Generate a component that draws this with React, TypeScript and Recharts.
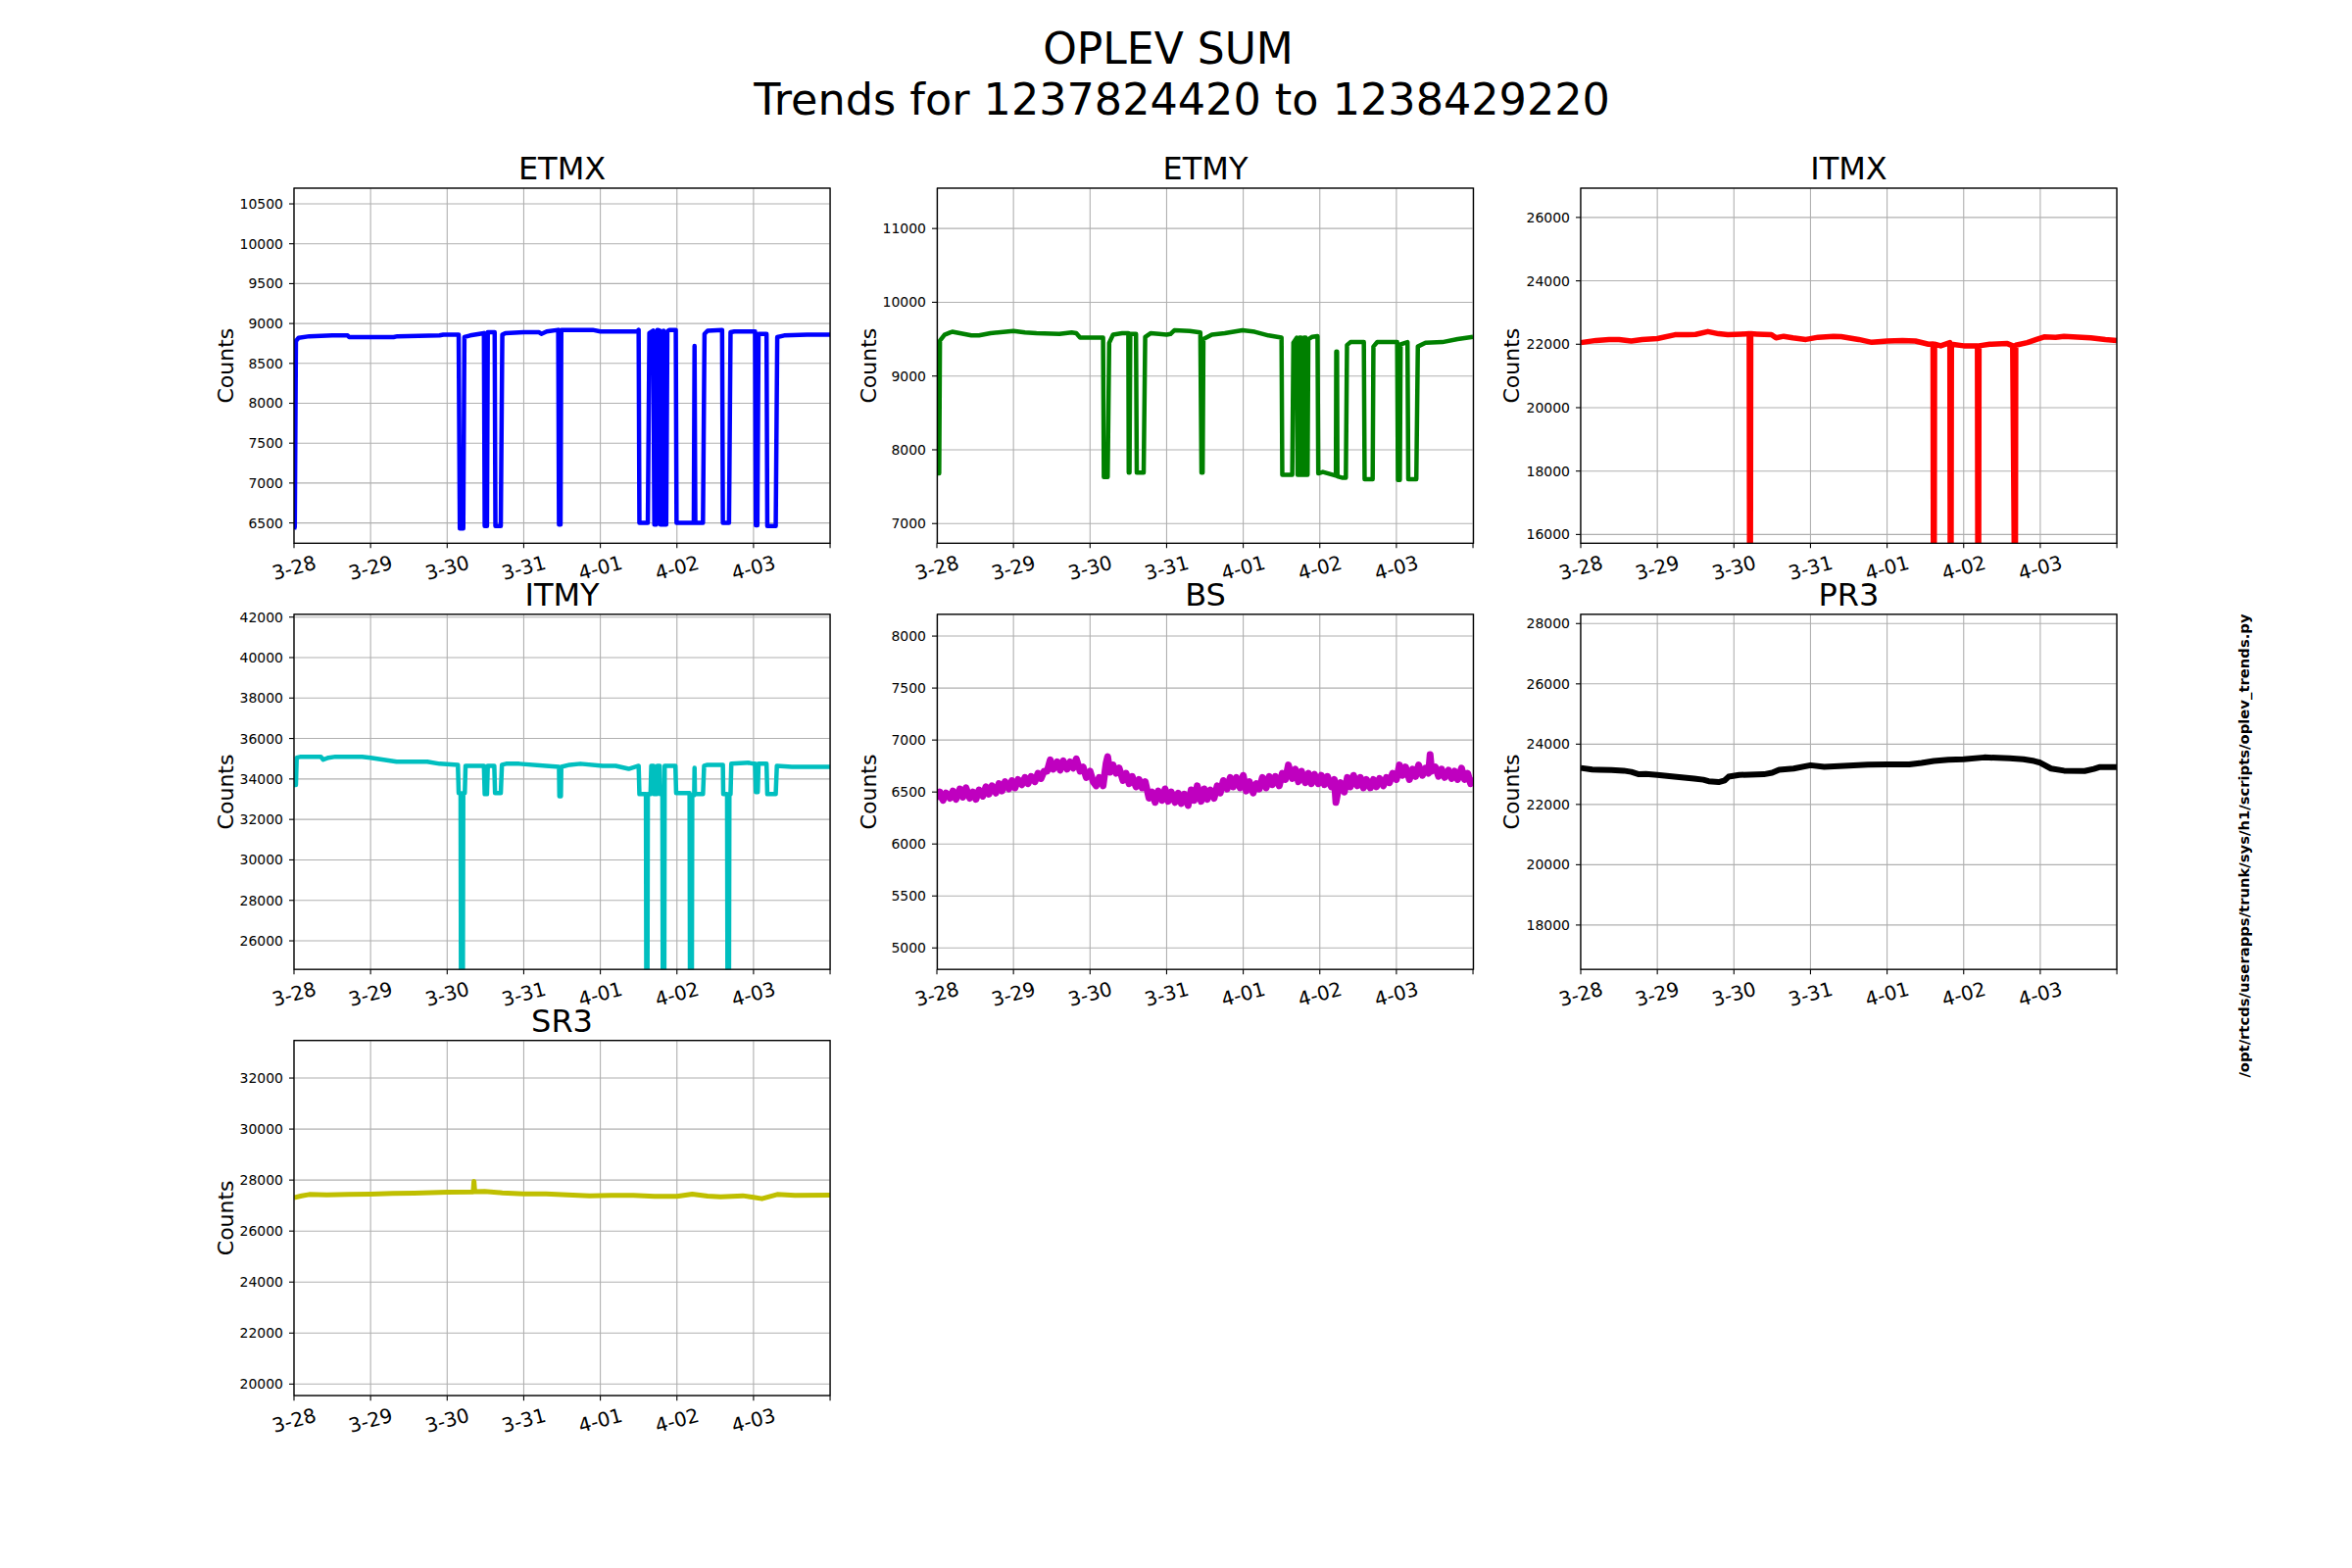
import React from 'react';
import { LineChart, Line, XAxis, YAxis, CartesianGrid } from 'recharts';

// time axis: days since 3-28 00:00
const dayTicks = [0, 1, 2, 3, 4, 5, 6, 7];
const dayLabels = ['3-28', '3-29', '3-30', '3-31', '4-01', '4-02', '4-03', ''];

// [day, counts]
const etmx = [
  [0, 6420], [0.01, 6450], [0.025, 8780], [0.06, 8820], [0.2, 8840], [0.5, 8850], [0.7, 8850], [0.72, 8830],
  [1.0, 8830], [1.3, 8830], [1.35, 8840], [1.9, 8850], [1.95, 8860], [2.15, 8860], [2.165, 6430], [2.21, 6430],
  [2.225, 8830], [2.3, 8850], [2.42, 8870], [2.48, 8880], [2.49, 6460], [2.52, 6460], [2.53, 8890], [2.62, 8890],
  [2.63, 6460], [2.7, 6460], [2.72, 8860], [2.76, 8880], [3.0, 8890], [3.2, 8890], [3.23, 8870], [3.3, 8900],
  [3.45, 8920], [3.46, 6480], [3.48, 6480], [3.49, 8920], [3.9, 8920], [4.0, 8900], [4.48, 8900], [4.5, 8920],
  [4.51, 6500], [4.62, 6500], [4.64, 8880], [4.69, 8910], [4.705, 6480], [4.73, 6480], [4.745, 8920], [4.775, 8910],
  [4.785, 6480], [4.81, 6480], [4.825, 8910], [4.835, 6480], [4.86, 6480], [4.875, 8900], [4.9, 8920], [4.985, 8920],
  [4.995, 6500], [5.22, 6500], [5.23, 8720], [5.24, 6500], [5.34, 6500], [5.36, 8870], [5.4, 8910], [5.59, 8920],
  [5.6, 6500], [5.68, 6500], [5.7, 8890], [5.75, 8900], [6.02, 8900], [6.03, 6470], [6.05, 6470], [6.065, 8870],
  [6.17, 8870], [6.18, 6460], [6.29, 6460], [6.31, 8830], [6.4, 8850], [6.7, 8860], [7, 8860],
];

const etmy = [
  [0, 7680], [0.03, 7680], [0.04, 9480], [0.1, 9560], [0.17, 9590], [0.2, 9600], [0.35, 9570], [0.45, 9550],
  [0.55, 9550], [0.7, 9580], [0.9, 9600], [1.0, 9610], [1.15, 9590], [1.3, 9580], [1.6, 9570], [1.76, 9590],
  [1.82, 9580], [1.87, 9520], [2.0, 9520], [2.17, 9520], [2.18, 7630], [2.23, 7630], [2.25, 9450], [2.3, 9560],
  [2.42, 9580], [2.5, 9580], [2.505, 7690], [2.515, 7690], [2.525, 9570], [2.6, 9570], [2.61, 7690], [2.7, 7690],
  [2.72, 9530], [2.79, 9580], [2.9, 9570], [3.0, 9560], [3.05, 9570], [3.1, 9620], [3.3, 9610], [3.44, 9590],
  [3.455, 7690], [3.47, 7690], [3.48, 9500], [3.59, 9560], [3.76, 9580], [3.99, 9620], [4.15, 9600], [4.33, 9550],
  [4.5, 9520], [4.51, 7660], [4.64, 7660], [4.655, 9450], [4.7, 9520], [4.71, 7660], [4.725, 7660], [4.735, 9520],
  [4.755, 9520], [4.765, 7660], [4.785, 7660], [4.795, 9520], [4.815, 9520], [4.825, 7660], [4.84, 7660], [4.85, 9500],
  [4.9, 9530], [4.97, 9540], [4.98, 7680], [5.04, 7700], [5.21, 7650], [5.215, 9330], [5.225, 9330], [5.23, 7640],
  [5.3, 7620], [5.34, 7620], [5.355, 9420], [5.4, 9460], [5.575, 9460], [5.585, 7600], [5.69, 7600], [5.7, 9400],
  [5.75, 9460], [6.01, 9460], [6.02, 7590], [6.045, 7590], [6.055, 9430], [6.145, 9460], [6.155, 7600], [6.26, 7600],
  [6.28, 9400], [6.38, 9450], [6.6, 9460], [6.8, 9500], [7, 9530],
];

const itmx = [
  [0, 22050], [0.2, 22120], [0.37, 22150], [0.5, 22150], [0.66, 22100], [0.8, 22150], [1.0, 22180], [1.23, 22300],
  [1.4, 22300], [1.5, 22310], [1.66, 22400], [1.8, 22330], [1.92, 22300], [2.1, 22320], [2.2, 22330], [2.205, 14000],
  [2.215, 14000], [2.22, 22330], [2.3, 22320], [2.49, 22300], [2.55, 22200], [2.65, 22250], [2.77, 22200], [2.94, 22150],
  [3.1, 22220], [3.3, 22250], [3.4, 22240], [3.63, 22150], [3.8, 22060], [4.0, 22100], [4.2, 22120], [4.37, 22100],
  [4.54, 22000], [4.6, 22010], [4.605, 14000], [4.615, 14000], [4.62, 22000], [4.7, 21950], [4.82, 22050], [4.825, 14000],
  [4.835, 14000], [4.84, 22000], [5.0, 21950], [5.18, 21950], [5.185, 14000], [5.195, 14000], [5.2, 21950], [5.34, 22000],
  [5.57, 22020], [5.64, 21950], [5.665, 14000], [5.675, 14000], [5.68, 21970], [5.83, 22050], [5.95, 22150], [6.05, 22230],
  [6.2, 22220], [6.31, 22250], [6.66, 22200], [6.85, 22150], [7, 22120],
];

const itmy = [
  [0, 33700], [0.025, 33700], [0.035, 35050], [0.09, 35100], [0.35, 35100], [0.38, 34950], [0.45, 35050], [0.54, 35100],
  [0.89, 35100], [1.0, 35050], [1.17, 34950], [1.34, 34850], [1.74, 34850], [1.9, 34750], [2.14, 34700], [2.15, 33300],
  [2.175, 33300], [2.18, 24000], [2.205, 24000], [2.21, 33300], [2.23, 33300], [2.24, 34650], [2.48, 34650], [2.49, 33250],
  [2.52, 33250], [2.53, 34650], [2.615, 34650], [2.625, 33300], [2.7, 33300], [2.715, 34700], [2.77, 34750], [2.94, 34750],
  [3.29, 34650], [3.46, 34600], [3.465, 33150], [3.485, 33150], [3.49, 34600], [3.6, 34700], [3.74, 34750], [4.03, 34650],
  [4.2, 34650], [4.37, 34500], [4.5, 34650], [4.51, 33250], [4.595, 33250], [4.6, 24000], [4.615, 24000], [4.62, 33250],
  [4.655, 33250], [4.665, 34650], [4.695, 34650], [4.705, 33250], [4.735, 33250], [4.745, 34650], [4.775, 34650], [4.785, 33250],
  [4.81, 33250], [4.815, 24000], [4.835, 24000], [4.84, 34650], [4.98, 34650], [4.99, 33300], [5.165, 33300], [5.17, 24000],
  [5.195, 24000], [5.2, 33200], [5.225, 33200], [5.23, 34550], [5.235, 33250], [5.34, 33250], [5.355, 34650], [5.4, 34700],
  [5.6, 34700], [5.605, 33250], [5.655, 33250], [5.66, 24000], [5.68, 24000], [5.685, 33250], [5.7, 33250], [5.71, 34750],
  [5.94, 34800], [6.0, 34750], [6.02, 34750], [6.03, 33350], [6.055, 33350], [6.065, 34750], [6.17, 34750], [6.18, 33250],
  [6.29, 33250], [6.305, 34650], [6.5, 34600], [6.71, 34600], [7, 34600],
];

const bs = [
  [0, 6430], [0.04, 6500], [0.08, 6420], [0.12, 6490], [0.17, 6440], [0.21, 6510], [0.25, 6430], [0.3, 6530],
  [0.34, 6450], [0.38, 6540], [0.43, 6440], [0.47, 6500], [0.51, 6430], [0.55, 6520], [0.6, 6460], [0.64, 6550],
  [0.68, 6480], [0.72, 6560], [0.77, 6490], [0.81, 6580], [0.85, 6510], [0.89, 6600], [0.94, 6530], [0.98, 6610],
  [1.02, 6540], [1.06, 6620], [1.11, 6570], [1.15, 6640], [1.19, 6580], [1.23, 6650], [1.28, 6600], [1.32, 6680],
  [1.36, 6630], [1.4, 6700], [1.44, 6700], [1.48, 6810], [1.52, 6720], [1.57, 6790], [1.61, 6710], [1.65, 6800],
  [1.7, 6720], [1.74, 6790], [1.78, 6730], [1.82, 6820], [1.87, 6700], [1.91, 6740], [1.95, 6640], [2.0, 6700],
  [2.04, 6600], [2.08, 6560], [2.12, 6640], [2.17, 6560], [2.21, 6780], [2.23, 6840], [2.26, 6690], [2.3, 6760],
  [2.34, 6680], [2.38, 6730], [2.43, 6610], [2.47, 6680], [2.51, 6580], [2.55, 6650], [2.6, 6550], [2.64, 6620],
  [2.68, 6540], [2.72, 6600], [2.77, 6440], [2.81, 6500], [2.85, 6400], [2.89, 6510], [2.94, 6420], [2.98, 6530],
  [3.02, 6410], [3.06, 6500], [3.11, 6400], [3.15, 6490], [3.19, 6390], [3.23, 6480], [3.28, 6370], [3.32, 6520],
  [3.36, 6420], [3.4, 6560], [3.45, 6410], [3.49, 6530], [3.53, 6430], [3.57, 6520], [3.62, 6440], [3.66, 6560],
  [3.7, 6490], [3.74, 6610], [3.79, 6530], [3.83, 6640], [3.87, 6550], [3.91, 6640], [3.96, 6540], [4.0, 6660],
  [4.04, 6510], [4.08, 6600], [4.13, 6490], [4.17, 6580], [4.21, 6530], [4.25, 6640], [4.3, 6540], [4.34, 6650],
  [4.38, 6570], [4.42, 6650], [4.47, 6560], [4.51, 6680], [4.55, 6620], [4.59, 6760], [4.64, 6630], [4.68, 6720],
  [4.72, 6600], [4.76, 6700], [4.81, 6590], [4.85, 6680], [4.89, 6580], [4.93, 6670], [4.98, 6580], [5.02, 6660],
  [5.06, 6570], [5.1, 6650], [5.15, 6550], [5.19, 6620], [5.21, 6400], [5.23, 6480], [5.27, 6590], [5.32, 6500],
  [5.36, 6640], [5.4, 6550], [5.44, 6660], [5.49, 6560], [5.53, 6640], [5.57, 6540], [5.61, 6620], [5.66, 6540],
  [5.7, 6620], [5.74, 6550], [5.78, 6630], [5.83, 6560], [5.87, 6640], [5.91, 6590], [5.95, 6680], [6.0, 6620],
  [6.04, 6760], [6.08, 6660], [6.12, 6740], [6.17, 6620], [6.21, 6720], [6.25, 6650], [6.29, 6760], [6.34, 6660],
  [6.38, 6730], [6.42, 6680], [6.44, 6860], [6.46, 6700], [6.51, 6740], [6.55, 6650], [6.59, 6720], [6.63, 6640],
  [6.68, 6710], [6.72, 6630], [6.76, 6700], [6.8, 6620], [6.85, 6730], [6.89, 6620], [6.93, 6680], [6.97, 6580],
  [7, 6640],
];

const pr3 = [
  [0, 23210], [0.15, 23160], [0.24, 23150], [0.4, 23140], [0.56, 23120], [0.66, 23080], [0.76, 23000], [0.85, 23010],
  [1.0, 22980], [1.22, 22920], [1.48, 22860], [1.6, 22820], [1.67, 22770], [1.8, 22740], [1.88, 22800], [1.93, 22920],
  [2.07, 22980], [2.39, 23000], [2.5, 23050], [2.59, 23150], [2.78, 23190], [3.0, 23300], [3.18, 23245], [3.5, 23290],
  [3.75, 23320], [4.0, 23330], [4.29, 23330], [4.45, 23380], [4.61, 23440], [4.8, 23480], [5.0, 23500], [5.27, 23560],
  [5.6, 23535], [5.78, 23500], [5.92, 23440], [6.0, 23385], [6.14, 23190], [6.31, 23120], [6.58, 23110], [6.7, 23180],
  [6.77, 23235], [7, 23235],
];

const sr3 = [
  [0, 27310], [0.1, 27380], [0.2, 27435], [0.43, 27420], [0.71, 27435], [1.0, 27450], [1.29, 27475], [1.57, 27490],
  [2.0, 27525], [2.34, 27530], [2.35, 27950], [2.36, 27540], [2.49, 27550], [2.72, 27500], [3.0, 27460], [3.29, 27460],
  [3.57, 27420], [3.86, 27385], [4.14, 27400], [4.43, 27400], [4.71, 27360], [5.0, 27360], [5.2, 27450], [5.4, 27370],
  [5.57, 27345], [5.86, 27385], [6.0, 27320], [6.11, 27270], [6.31, 27435], [6.54, 27400], [7, 27410],
];

const etmxTicks = [6500, 7000, 7500, 8000, 8500, 9000, 9500, 10000, 10500];
const etmyTicks = [7000, 8000, 9000, 10000, 11000];
const itmxTicks = [16000, 18000, 20000, 22000, 24000, 26000];
const itmyTicks = [26000, 28000, 30000, 32000, 34000, 36000, 38000, 40000, 42000];
const bsTicks = [5000, 5500, 6000, 6500, 7000, 7500, 8000];
const pr3Ticks = [18000, 20000, 22000, 24000, 26000, 28000];
const sr3Ticks = [20000, 22000, 24000, 26000, 28000, 30000, 32000];

const panels = [
  { name: 'ETMX', data: etmx, color: '#0000ff', width: 4.5, domain: [6245, 10697], ticks: etmxTicks, col: 0, row: 0 },
  { name: 'ETMY', data: etmy, color: '#008000', width: 4.5, domain: [6733, 11547], ticks: etmyTicks, col: 1, row: 0 },
  { name: 'ITMX', data: itmx, color: '#ff0000', width: 5.5, domain: [15723, 26923], ticks: itmxTicks, col: 2, row: 0 },
  { name: 'ITMY', data: itmy, color: '#00bfbf', width: 4.5, domain: [24580, 42130], ticks: itmyTicks, col: 0, row: 1 },
  { name: 'BS', data: bs, color: '#bf00bf', width: 7, domain: [4792, 8208], ticks: bsTicks, col: 1, row: 1 },
  { name: 'PR3', data: pr3, color: '#000000', width: 6, domain: [16523, 28302], ticks: pr3Ticks, col: 2, row: 1 },
  { name: 'SR3', data: sr3, color: '#bfbf00', width: 5, domain: [19538, 33462], ticks: sr3Ticks, col: 0, row: 2 },
];

// subplot grid: left .125, right .9, bottom .11, top .88, wspace/hspace .2
const PW = 547.06;
const PH = 362.35;
const colLeft = [300, 956.47, 1612.94];
const rowTop = [192, 626.82, 1061.65];
const YW = 80;
const MT = 4;
const MR = 8;
const XH = 60;
const FONT = '"DejaVu Sans", sans-serif';

function XTick(props: any) {
  const { x, y, payload } = props;
  const label = dayLabels[dayTicks.indexOf(payload.value)] || '';
  return (
    <text
      transform={`translate(${x},${y + 20}) rotate(-15)`}
      textAnchor="middle"
      dominantBaseline="central"
      fontSize={20}
      fill="#000"
      fontFamily={FONT}
    >
      {label}
    </text>
  );
}

function Panel({ p }: { p: (typeof panels)[number] }) {
  const rows = p.data.map(([t, v]) => ({ t, v }));
  const left = colLeft[p.col];
  const top = rowTop[p.row];
  return (
    <div style={{ position: 'absolute', left: left - YW, top: top - MT }}>
      <LineChart
        width={YW + PW + MR}
        height={MT + PH + XH}
        data={rows}
        margin={{ top: MT, right: MR, bottom: 0, left: 0 }}
      >
        <CartesianGrid stroke="#b0b0b0" strokeWidth={1.1} />
        <XAxis
          type="number"
          dataKey="t"
          domain={[0, 7]}
          ticks={dayTicks}
          interval={0}
          allowDataOverflow
          height={XH}
          axisLine={false}
          tickLine={{ stroke: '#000', strokeWidth: 1.1 }}
          tickSize={5}
          tickMargin={0}
          tick={<XTick />}
        />
        <YAxis
          type="number"
          domain={p.domain}
          ticks={p.ticks}
          interval={0}
          allowDataOverflow
          width={YW}
          axisLine={false}
          tickLine={{ stroke: '#000', strokeWidth: 1.1 }}
          tickSize={5}
          tickMargin={6}
          tick={{ fontSize: 14, fill: '#000', fontFamily: FONT }}
        />
        <Line
          type="linear"
          dataKey="v"
          stroke={p.color}
          strokeWidth={p.width}
          strokeLinejoin="round"
          dot={false}
          activeDot={false}
          isAnimationActive={false}
        />
      </LineChart>
    </div>
  );
}

export default function App() {
  return (
    <div
      style={{
        position: 'relative',
        width: 2400,
        height: 1600,
        background: '#fff',
        fontFamily: FONT,
        overflow: 'hidden',
      }}
    >
      <style>{'body{margin:0}'}</style>
      {panels.map((p) => (
        <Panel key={p.name} p={p} />
      ))}
      <svg
        width={2400}
        height={1600}
        style={{ position: 'absolute', left: 0, top: 0, pointerEvents: 'none' }}
        fontFamily={FONT}
      >
        <text x={1192} y={65} textAnchor="middle" fontSize={44} fill="#000">
          OPLEV SUM
        </text>
        <text x={1206} y={117} textAnchor="middle" fontSize={44.5} fill="#000">
          Trends for 1237824420 to 1238429220
        </text>
        {panels.map((p) => {
          const left = colLeft[p.col];
          const top = rowTop[p.row];
          return (
            <g key={p.name}>
              <rect x={left} y={top} width={PW} height={PH} fill="none" stroke="#000" strokeWidth={1.3} />
              <text x={left + PW / 2} y={top - 9} textAnchor="middle" fontSize={32} fill="#000">
                {p.name}
              </text>
              <text
                transform={`translate(${left - 70},${top + PH / 2}) rotate(-90)`}
                textAnchor="middle"
                dominantBaseline="central"
                fontSize={22}
                fill="#000"
              >
                Counts
              </text>
            </g>
          );
        })}
        <text
          transform="translate(2289,863) rotate(-90)"
          textAnchor="middle"
          dominantBaseline="central"
          fontSize={14.8}
          fontWeight="bold"
          fill="#000"
        >
          /opt/rtcds/userapps/trunk/sys/h1/scripts/oplev_trends.py
        </text>
      </svg>
    </div>
  );
}
